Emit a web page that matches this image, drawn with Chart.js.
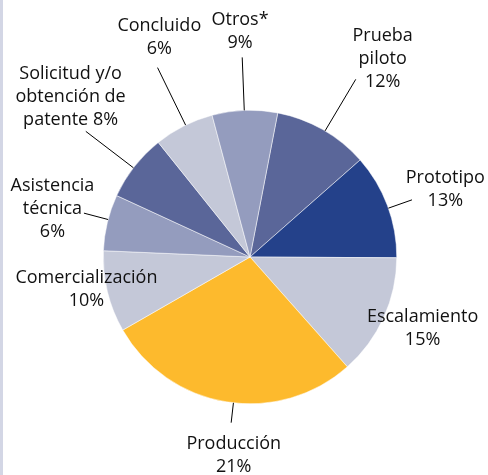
<!DOCTYPE html>
<html>
<head>
<meta charset="utf-8">
<script src="https://cdn.jsdelivr.net/npm/chart.js@4.4.1/dist/chart.umd.min.js"></script>
<style>
  html, body { margin: 0; padding: 0; background: #fff; }
  #wrap { position: relative; width: 488px; height: 475px; overflow: hidden; }
  #stripe { position: absolute; left: 0; top: 0; width: 3px; height: 475px; background: #d3d6e5; }
  #pie { position: absolute; left: 0; top: 0; }
</style>
</head>
<body>
<div id="wrap">
  <div id="stripe"></div>
  <canvas id="pie" width="488" height="475"></canvas>
</div>
<script>
// slices, clockwise from just right of 12 o'clock
let categories = ["Prueba piloto", "Prototipo", "Escalamiento", "Producción", "Comercialización",
    "Asistencia técnica", "Solicitud y/o obtención de patente", "Concluido", "Otros*"];
// slice sizes as drawn in the picture (share of the circle)
let sliceValues = [10.5, 11.6, 13.4, 28.3, 9.0, 6.2, 7.4, 6.6, 7.2];
// percentages printed on the labels
let percentLabels = ["12%", "13%", "15%", "21%", "10%", "6%", "8%", "6%", "9%"];
// how the label text is broken into lines
let labelLines = [
    ["Prueba", "piloto", "12%"],
    ["Prototipo", "13%"],
    ["Escalamiento", "15%"],
    ["Producción", "21%"],
    ["Comercialización", "10%"],
    ["Asistencia", "técnica", "6%"],
    ["Solicitud y/o", "obtención de", "patente 8%"],
    ["Concluido", "6%"],
    ["Otros*", "9%"]];

const navy = "#24418a";
const slate = "#5a6699";
const mid = "#949cbe";
const light = "#c4c8d8";
const yellow = "#fdba2d";
const sliceColors = [slate, navy, light, yellow, light, mid, slate, light, mid];

// label placement: [angle shift from slice middle (deg), distance beyond the rim (px)]
const labelPlace = [[4, 92], [1.4, 60], [-1.9, 40], [-4.6, 52], [2.5, 20], [0, 56.5], [3.8, 94], [4.4, 91], [-0.5, 79]];
// leader lines: [angle shift (deg), length beyond the rim (px)] or null
const leaders = [[1.0, 60], [1.1, 25], null, [-2.8, 20], null, [1.2, 25], [-0.6, 60], [0.8, 64], [-0.2, 53]];

const outLabels = {
    id: "outLabels",
    afterDatasetsDraw(chart) {
        const ctx = chart.ctx;
        const arcs = chart.getDatasetMeta(0).data;
        ctx.save();
        arcs.forEach((arc, i) => {
            const p = arc.getProps(["x", "y", "startAngle", "endAngle", "outerRadius"], true);
            const midA = (p.startAngle + p.endAngle) / 2;
            if (leaders[i]) {
                const a = midA + leaders[i][0] * Math.PI / 180;
                ctx.beginPath();
                ctx.moveTo(p.x + Math.cos(a) * p.outerRadius, p.y + Math.sin(a) * p.outerRadius);
                ctx.lineTo(p.x + Math.cos(a) * (p.outerRadius + leaders[i][1]),
                           p.y + Math.sin(a) * (p.outerRadius + leaders[i][1]));
                ctx.strokeStyle = "#000";
                ctx.lineWidth = 1;
                ctx.stroke();
            }
            const la = midA + labelPlace[i][0] * Math.PI / 180;
            const r = p.outerRadius + labelPlace[i][1];
            const lx = p.x + Math.cos(la) * r;
            const ly = p.y + Math.sin(la) * r;
            const lines = labelLines[i];
            const lh = 23;
            ctx.font = "18px 'Open Sans'";
            ctx.fillStyle = "#111";
            ctx.textAlign = "center";
            ctx.textBaseline = "middle";
            lines.forEach((t, k) => {
                ctx.fillText(t, lx, ly + (k - (lines.length - 1) / 2) * lh);
            });
        });
        ctx.restore();
    }
};

new Chart("pie", {
    type: "pie",
    data: {
        labels: categories,
        datasets: [{
            data: sliceValues,
            backgroundColor: sliceColors,
            borderColor: "#ffffff",
            borderWidth: 0.5
        }]
    },
    options: {
        responsive: false,
        animation: false,
        rotation: 10.9,
        layout: {padding: {left: 103, right: 91, top: 110, bottom: 71}},
        plugins: {
            legend: {display: false},
            tooltip: {enabled: false}
        }
    },
    plugins: [outLabels]
});
</script>
</body>
</html>
